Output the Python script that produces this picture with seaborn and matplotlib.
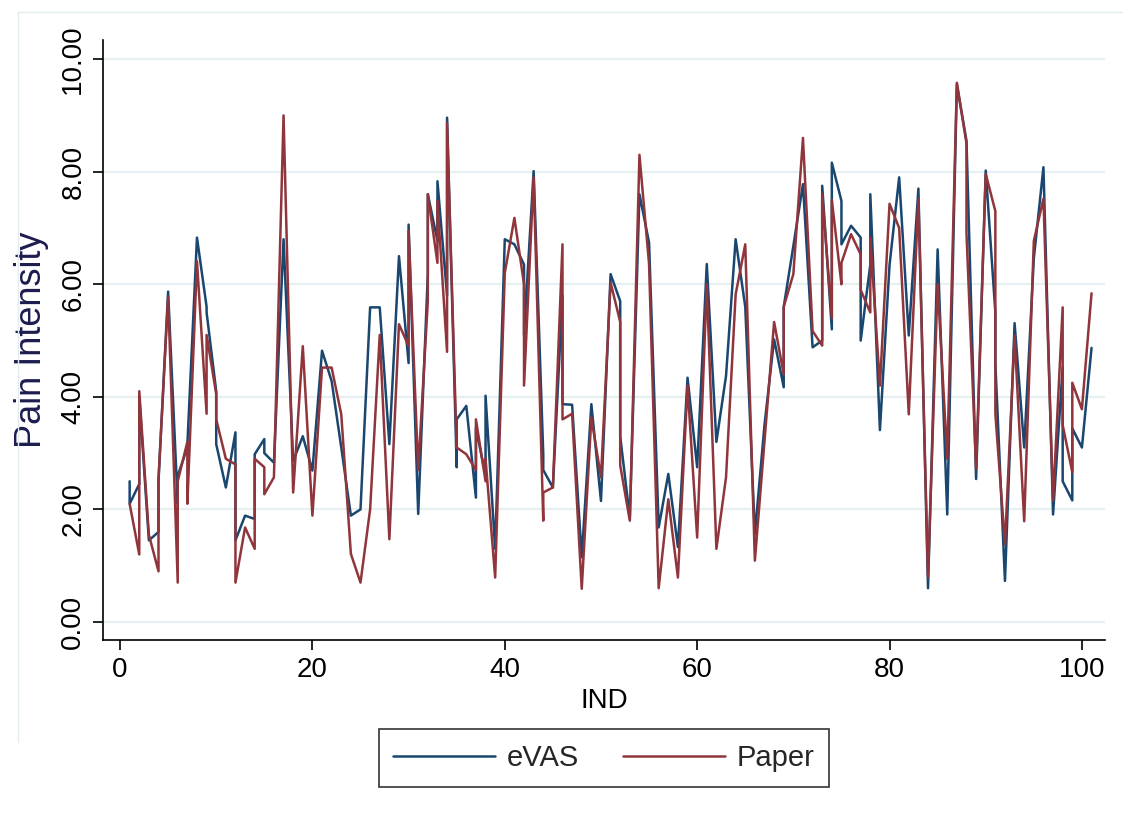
import matplotlib
matplotlib.use("Agg")
import numpy as np
import pandas as pd
import matplotlib.pyplot as plt
import seaborn as sns
from matplotlib.lines import Line2D

# ------------------------------------------------------------------
# Data: one row per record, some IND values appear twice
ind = [1, 1, 2, 2, 3, 4, 4, 5, 6, 6, 7, 7, 8, 9, 9, 10, 10, 11, 12, 12,
       13, 14, 14, 15, 15, 16, 17, 18, 19, 20, 21, 22, 23, 24, 25, 26, 27, 28, 29, 30,
       30, 31, 32, 32, 33, 33, 34, 34, 35, 35, 36, 37, 37, 38, 38, 39, 40, 41, 42, 42,
       43, 44, 44, 45, 46, 46, 47, 48, 49, 50, 51, 52, 52, 53, 54, 55, 56, 57, 58, 59,
       60, 61, 62, 63, 64, 65, 66, 67, 68, 69, 69, 70, 71, 72, 73, 73, 74, 74, 75, 75,
       76, 77, 77, 78, 78, 79, 80, 81, 82, 83, 84, 85, 86, 87, 88, 88, 89, 90, 91, 91,
       92, 93, 94, 95, 96, 97, 98, 98, 99, 99, 100, 101]

evas = [2.50, 2.10, 2.45, 4.00, 1.45, 1.60, 2.50, 5.87, 2.10, 2.60, 3.10, 3.15, 6.83, 5.60, 5.50, 4.10, 3.16, 2.39, 3.37, 1.45,
        1.89, 1.83, 2.98, 3.25, 3.00, 2.83, 6.80, 2.86, 3.30, 2.69, 4.82, 4.28, 3.10, 1.89, 2.00, 5.59, 5.59, 3.16, 6.50, 4.60,
        7.06, 1.92, 6.20, 7.60, 6.77, 7.83, 5.80, 8.96, 2.75, 3.60, 3.84, 2.21, 3.45, 2.60, 4.02, 1.30, 6.80, 6.71, 6.35, 5.10,
        8.01, 2.98, 2.70, 2.39, 5.80, 3.87, 3.86, 1.15, 3.87, 2.15, 6.18, 5.70, 3.30, 1.85, 7.60, 6.74, 1.68, 2.63, 1.33, 4.34,
        2.75, 6.36, 3.20, 4.37, 6.80, 5.60, 1.56, 3.50, 5.02, 4.17, 5.60, 6.68, 7.78, 4.88, 5.00, 7.75, 5.20, 8.16, 7.48, 6.71,
        7.04, 6.83, 5.00, 6.35, 7.60, 3.41, 6.34, 7.90, 5.09, 7.70, 0.60, 6.62, 1.91, 9.55, 8.55, 8.55, 2.54, 8.02, 5.50, 4.60,
        0.73, 5.31, 3.10, 6.46, 8.08, 1.91, 4.53, 2.50, 2.16, 3.44, 3.10, 4.87]

paper = [2.10, 2.10, 1.20, 4.10, 1.55, 0.90, 2.55, 5.78, 0.70, 2.50, 3.20, 2.10, 6.41, 3.70, 5.10, 4.05, 3.60, 2.90, 2.80, 0.70,
         1.68, 1.30, 2.90, 2.75, 2.27, 2.57, 9.00, 2.30, 4.90, 1.89, 4.52, 4.52, 3.69, 1.21, 0.70, 2.00, 5.10, 1.47, 5.29, 4.90,
         6.95, 2.70, 5.70, 7.60, 6.38, 7.48, 4.80, 8.87, 3.10, 3.10, 2.98, 2.70, 3.60, 2.50, 2.90, 0.79, 6.20, 7.18, 6.00, 4.20,
         7.90, 1.80, 2.30, 2.39, 6.71, 3.60, 3.70, 0.59, 3.63, 2.57, 6.03, 5.33, 2.78, 1.80, 8.30, 6.36, 0.60, 2.18, 0.79, 4.20,
         1.50, 6.00, 1.30, 2.57, 5.82, 6.71, 1.09, 3.20, 5.33, 4.40, 5.60, 6.18, 8.60, 5.17, 4.91, 7.60, 5.40, 7.50, 6.00, 6.38,
         6.89, 6.53, 5.90, 5.50, 6.83, 4.20, 7.43, 7.00, 3.69, 7.52, 0.80, 6.00, 2.90, 9.58, 8.50, 6.90, 2.72, 7.96, 7.30, 3.70,
         1.38, 5.09, 1.79, 6.77, 7.52, 2.16, 5.59, 3.50, 2.66, 4.25, 3.78, 5.84]

methods = ["eVAS", "Paper"]
colors = {"eVAS": "#1a476f", "Paper": "#90353b"}
y_ticks = [0, 2, 4, 6, 8, 10]
x_ticks = [0, 20, 40, 60, 80, 100]

# ------------------------------------------------------------------
df = pd.DataFrame({"IND": ind, "eVAS": evas, "Paper": paper})
long_df = df.melt(id_vars="IND", value_vars=methods, var_name="method", value_name="pain")

sns.set_theme(style="white")
plt.rcParams["font.family"] = ["Liberation Sans", "DejaVu Sans"]

W, H = 1123, 814
fig = plt.figure(figsize=(W / 100, H / 100), dpi=100)
ax = fig.add_axes([103 / W, 1 - 640 / H, (1105 - 103) / W, (640 - 40) / H])

sns.lineplot(data=long_df, x="IND", y="pain", hue="method", hue_order=methods,
             estimator=None, sort=False, palette=colors, linewidth=1.8,
             legend=False, ax=ax)

ax.set_xlim(-1.77, 102.4)
ax.set_ylim(-0.32, 10.34)
ax.set_xticks(x_ticks)
ax.set_yticks(y_ticks)
ax.set_yticklabels([f"{v:.2f}" for v in y_ticks], rotation=90, va="center")
ax.tick_params(axis="both", which="major", bottom=True, left=True, direction="out",
               length=7, width=1.2, color="black", labelsize=20, labelcolor="black")
ax.tick_params(axis="y", pad=5)
ax.tick_params(axis="x", pad=5)

ax.yaxis.grid(True, color="#e6eff1", linewidth=1.6)
ax.xaxis.grid(False)
ax.set_axisbelow(True)

for side in ["top", "right"]:
    ax.spines[side].set_visible(False)
for side in ["left", "bottom"]:
    ax.spines[side].set_color("black")
    ax.spines[side].set_linewidth(1.2)

ax.set_xlabel("IND", fontsize=20, color="black", labelpad=4)
ax.set_ylabel("Pain Intensity", fontsize=26, color="#1c1c4e", labelpad=8)

# legend below the plot
handles = [Line2D([], [], color=colors[m], linewidth=1.8) for m in methods]
leg = fig.legend(handles, methods, loc="center", bbox_to_anchor=(604 / W, 1 - 758 / H),
                 ncol=2, frameon=True, fancybox=False, edgecolor="black", fontsize=21,
                 handlelength=3.5, columnspacing=1.5, borderpad=0.5, handletextpad=0.4)
leg.get_frame().set_linewidth(1.2)

# faint outline of the graph region
fig.add_artist(Line2D([18 / W, 18 / W], [1 - 12 / H, 1 - 742 / H], transform=fig.transFigure,
                      color="#e3ecee", linewidth=1))
fig.add_artist(Line2D([18 / W, 1.0], [1 - 12 / H, 1 - 12 / H], transform=fig.transFigure,
                      color="#e3ecee", linewidth=1))

fig.savefig("out.png", dpi=100, facecolor="white")
